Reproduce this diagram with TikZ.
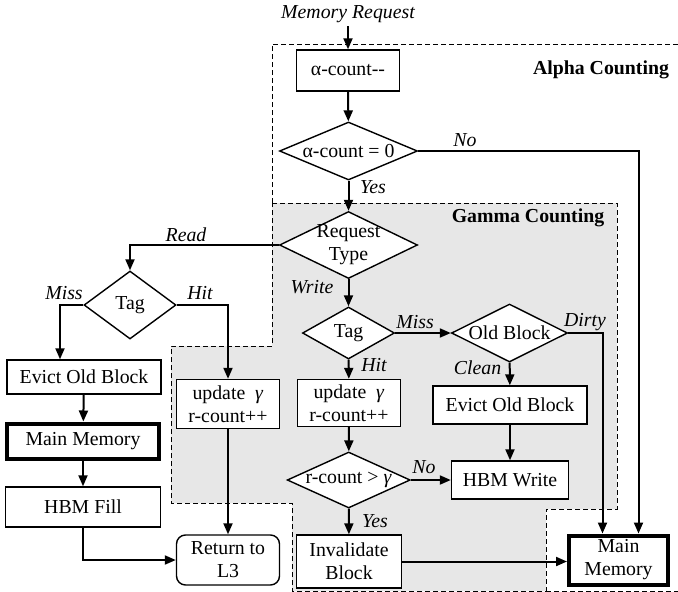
\documentclass[tikz,border=0pt]{standalone}
\usepackage{fontspec}
\setmainfont{Liberation Serif}
\usetikzlibrary{arrows.meta, positioning, calc, shapes.geometric}

\definecolor{gammagray}{RGB}{231,231,231}
\newcommand{\zw}[1]{\makebox[0pt]{#1}}

\begin{document}
\begin{tikzpicture}[x=1pt, y=-1pt, >={Triangle[length=11pt,width=9pt]},
  every node/.style={font=\fontsize{19.8}{23}\selectfont},
  box/.style={draw, line width=1.4pt, inner sep=0pt, align=center, fill=white},
  mainmem/.style={box, line width=4pt},
  retbox/.style={box, rounded corners=9pt},
  decision/.style={diamond, draw, line width=1.4pt, inner sep=0pt, align=center, fill=white},
  lbl/.style={font=\fontsize{19.8}{23}\selectfont\itshape},
  ttl/.style={font=\fontsize{19.8}{23}\selectfont\bfseries},
  flow/.style={->, line width=2pt},
  region/.style={dashed, dash pattern=on 5pt off 3pt, line width=0.9pt}]

\useasboundingbox (0,0) rectangle (678,592);

% Gamma counting region
\fill[gammagray] (272,203) -- (617,203) -- (617,509) -- (546,509) -- (546,591) -- (292,591)
  -- (292,503) -- (171,503) -- (171,346) -- (272,346) -- cycle;
\draw[region] (272,203) -- (617,203) -- (617,509) -- (546,509) -- (546,591) -- (292,591)
  -- (292,503) -- (171,503) -- (171,346) -- (272,346) -- cycle;

% Alpha counting region
\draw[region] (272,203) -- (272,44) -- (678,44);
\draw[region] (546,591) -- (678,591);

\node[ttl] (alphattl) at (601,70) {Alpha Counting};
\node[ttl] (gammattl) at (528,218) {Gamma Counting};

% Alpha counting
\node[lbl] (memreq) at (348,14) {Memory Request};
\node[box, minimum width=103pt, minimum height=41pt] (acdec) at (348,70.5) {α-count-{}-};
\node[decision, minimum width=138pt, minimum height=58pt] (aczero) at (348.5,151) {\zw{α-count = 0}};

% Request type
\node[decision, minimum width=138pt, minimum height=67pt] (reqtype) at (348.5,245) {\zw{Request}\\\zw{Type}};

% Read path
\node[decision, minimum width=92pt, minimum height=68pt] (tagrd) at (130,305) {\zw{Tag}};
\node[box, minimum width=154pt, minimum height=34pt] (evrd) at (84,377) {Evict Old Block};
\node[mainmem, minimum width=152pt, minimum height=35pt] (mmrd) at (83,441) {Main Memory};
\node[box, minimum width=155pt, minimum height=40pt] (hbmfill) at (83,507) {HBM Fill};
\node[box, minimum width=103pt, minimum height=49pt] (uprd) at (228,404) {update\ \ \textit{γ}\\r-count++};
\node[retbox, minimum width=103pt, minimum height=50pt] (ret) at (228,560) {Return to\\L3};

% Write path
\node[decision, minimum width=92pt, minimum height=52pt] (tagwr) at (348.5,333) {\zw{Tag}};
\node[decision, minimum width=116pt, minimum height=58pt] (oldblk) at (509.5,333) {\zw{Old Block}};
\node[box, minimum width=103pt, minimum height=47pt] (upwr) at (349,403) {update\ \ \textit{γ}\\r-count++};
\node[box, minimum width=154pt, minimum height=38pt] (evwr) at (510,405) {Evict Old Block};
\node[decision, minimum width=123pt, minimum height=56pt] (rcgt) at (348.7,480) {\zw{r-count > \textit{γ}}};
\node[box, minimum width=117pt, minimum height=38pt] (hbmwr) at (510,480) {HBM Write};
\node[box, minimum width=105pt, minimum height=53pt] (inval) at (349,561.5) {Invalidate\\Block};
\node[mainmem, minimum width=99pt, minimum height=49pt] (mmwr) at (618.5,560) {Main\\Memory};

% Branch labels
\node[lbl] (lno1) at (465,140) {No};
\node[lbl] (lyes1) at (373,187) {Yes};
\node[lbl] (lread) at (186,235) {Read};
\node[lbl] (lmiss1) at (64,293) {Miss};
\node[lbl] (lhit1) at (200,293) {Hit};
\node[lbl] (lwrite) at (312,287) {Write};
\node[lbl] (lmiss2) at (415,322) {Miss};
\node[lbl] (ldirty) at (585,322) {Dirty};
\node[lbl] (lhit2) at (374,365) {Hit};
\node[lbl] (lclean) at (477.5,368) {Clean};
\node[lbl] (lno2) at (424,467) {No};
\node[lbl] (lyes2) at (375,521) {Yes};

% Connections (alpha)
\draw[flow] (memreq) -- (acdec);
\draw[flow] (acdec) -- (aczero);
\draw[flow] (aczero.east) -| ([xshift=20pt]mmwr.north);
\draw[flow] (aczero) -- (reqtype);

% Connections (read)
\draw[flow] (reqtype.west) -| (tagrd.north);
\draw[flow] (tagrd.west) -| ([xshift=-24pt]evrd.north);
\draw[flow] (tagrd.east) -| (uprd.north);
\draw[flow] (evrd) -- (mmrd);
\draw[flow] (mmrd) -- (hbmfill);
\draw[flow] (hbmfill.south) |- (ret.west);
\draw[flow] (uprd) -- (ret);

% Connections (write)
\draw[flow] (reqtype) -- (tagwr);
\draw[flow] (tagwr) -- (oldblk);
\draw[flow] (tagwr) -- (upwr);
\draw[flow] (oldblk.east) -| ([xshift=-16pt]mmwr.north);
\draw[flow] (oldblk) -- (evwr);
\draw[flow] (evwr) -- (hbmwr);
\draw[flow] (upwr) -- (rcgt);
\draw[flow] (rcgt) -- (hbmwr);
\draw[flow] (rcgt) -- (inval);
\draw[flow] (inval) -- (mmwr.west |- inval);

\end{tikzpicture}
\end{document}
